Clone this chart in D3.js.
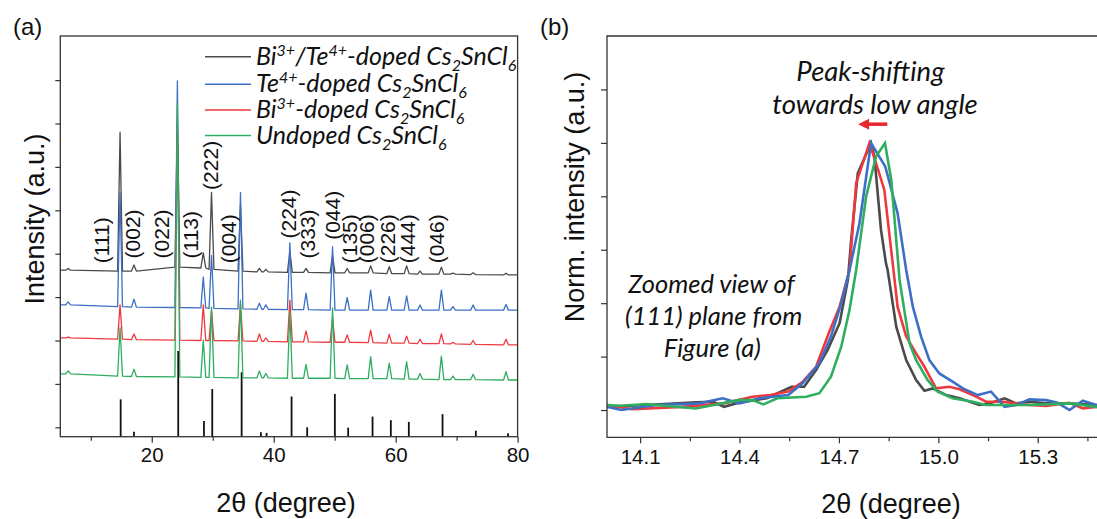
<!DOCTYPE html>
<html><head><meta charset="utf-8">
<script src="https://cdnjs.cloudflare.com/ajax/libs/d3/7.8.5/d3.min.js"></script>
<style>body{margin:0;background:#fff;} svg{display:block;}</style>
</head><body><svg id="c" width="1097" height="519"></svg>
<script>
// ---------- Panel (a) data ----------
const seriesColors = ["#4a4a4a", "#3d6fc6", "#ee3a3f", "#2fae5f"];
const peakPos   = [6.3, 14.8, 17.08, 24.2, 28.45, 29.8, 34.55, 37.65, 38.72, 42.65, 45.3, 49.65, 52.05, 55.9, 58.95, 61.8, 64.0, 67.5, 69.4, 72.7, 78.1];
const blackBase = [3.62,3.60,3.60,3.69,3.67,3.64,3.60,3.58,3.58,3.57,3.57,3.56,3.56,3.56,3.54,3.54,3.53,3.53,3.53,3.52,3.51];
const blackTop  = [3.66,6.80,3.74,7.08,4.02,5.41,5.12,3.66,3.64,4.05,3.66,3.96,3.66,3.72,3.70,3.72,3.60,3.69,3.55,3.56,3.55];
const blueBase  = [2.82,2.78,2.77,2.76,2.75,2.74,2.73,2.72,2.72,2.71,2.71,2.70,2.70,2.70,2.70,2.70,2.70,2.70,2.70,2.70,2.70];
const blueTop   = [2.89,5.41,2.95,7.98,3.46,3.96,5.41,2.86,2.82,4.25,3.09,4.16,2.99,3.16,3.01,3.03,2.82,3.16,2.78,2.82,2.83];
const redBase   = [2.06,2.03,2.02,2.01,2.00,2.00,1.99,1.98,1.98,1.97,1.97,1.96,1.96,1.95,1.94,1.94,1.93,1.93,1.92,1.91,1.90];
const redTop    = [2.08,2.82,2.15,6.86,2.82,2.70,2.85,2.15,2.06,2.93,2.22,2.52,2.13,2.24,2.14,2.10,2.03,2.15,1.96,2.00,2.03];
const greenBase = [1.23,1.18,1.17,1.16,1.15,1.15,1.14,1.14,1.14,1.13,1.13,1.13,1.12,1.12,1.12,1.11,1.11,1.10,1.10,1.10,1.09];
const greenTop  = [1.30,2.29,1.34,7.47,2.01,2.77,2.93,1.30,1.24,2.66,1.45,2.75,1.44,1.63,1.48,1.51,1.24,1.64,1.18,1.22,1.28];
const patternStart = [3.62, 2.82, 2.06, 1.23];
const patternEnd   = [3.51, 2.70, 1.90, 1.09];

const refPos = [14.9,17.08,24.34,28.56,29.92,34.74,37.9,38.83,42.93,45.49,50.03,52.21,56.21,59.21,62.16,67.69,73.15,78.44];
const refInt = [43.6,5.9,100,18.2,55.7,75.2,5.2,4.4,46.9,11.0,49.9,10.6,23.5,19.3,17.3,26.3,7.0,4.0];

const hklLabels = ["(111)","(002)","(022)","(113)","(222)","(004)","(224)","(333)","(044)","(135)","(006)","(226)","(444)","(046)"];
const hklPos    = [11.77,16.85,21.64,26.44,29.66,32.66,42.43,45.52,49.59,52.41,55.23,58.62,62.0,66.8];
const hklBottom = [3.78,3.89,3.89,3.89,5.47,3.78,4.35,3.89,4.32,3.78,3.78,3.78,3.78,3.78];

const xTicksA = [20,40,60,80];
const xMinorA = [10,30,50,70];
const yTicksA = [0,1,2,3,4,5,6,7,8];

// ---------- Panel (b) data ----------
const bBlack = [[14.0,0.012],[14.118,0.019],[14.268,0.029],[14.321,0.031],[14.353,0.012],[14.397,0.027],[14.482,0.044],[14.557,0.087],[14.595,0.087],[14.631,0.150],[14.666,0.225],[14.702,0.325],[14.727,0.487],[14.737,0.637],[14.757,0.887],[14.797,0.999],[14.807,0.949],[14.827,0.674],[14.842,0.549],[14.847,0.524],[14.873,0.312],[14.903,0.187],[14.933,0.112],[14.958,0.072],[14.983,0.081],[15.024,0.056],[15.064,0.044],[15.124,0.019],[15.154,0.025],[15.200,0.044],[15.235,0.025],[15.275,0.031],[15.325,0.025],[15.396,0.025],[15.476,0.019],[15.5,0.02]];
const bRed = [[14.0,0.019],[14.075,0.003],[14.225,0.012],[14.353,0.025],[14.439,0.050],[14.493,0.056],[14.547,0.069],[14.591,0.106],[14.631,0.162],[14.671,0.293],[14.702,0.387],[14.732,0.524],[14.752,0.849],[14.792,0.999],[14.812,0.924],[14.837,0.824],[14.868,0.487],[14.877,0.387],[14.903,0.275],[14.933,0.212],[14.958,0.162],[14.993,0.081],[15.033,0.087],[15.064,0.078],[15.114,0.050],[15.144,0.031],[15.194,0.031],[15.275,0.019],[15.325,0.015],[15.395,0.027],[15.436,0.006],[15.476,0.012],[15.5,0.012]];
const bBlue = [[14.0,0.012],[14.043,0.000],[14.150,0.019],[14.279,0.025],[14.349,0.044],[14.400,0.025],[14.460,0.044],[14.547,0.056],[14.590,0.100],[14.641,0.175],[14.676,0.275],[14.707,0.400],[14.732,0.524],[14.762,0.699],[14.797,0.999],[14.840,0.911],[14.877,0.737],[14.903,0.524],[14.923,0.387],[14.948,0.275],[14.973,0.187],[15.003,0.137],[15.043,0.106],[15.074,0.081],[15.119,0.056],[15.159,0.069],[15.200,0.012],[15.235,0.019],[15.275,0.040],[15.325,0.037],[15.360,0.027],[15.396,0.000],[15.436,0.035],[15.476,0.019],[15.5,0.02]];
const bGreen = [[14.0,0.019],[14.043,0.016],[14.119,0.022],[14.268,0.006],[14.397,0.037],[14.439,0.037],[14.472,0.021],[14.514,0.044],[14.601,0.050],[14.641,0.063],[14.676,0.125],[14.707,0.237],[14.732,0.375],[14.752,0.524],[14.782,0.799],[14.812,0.949],[14.839,0.999],[14.858,0.861],[14.883,0.487],[14.913,0.250],[14.933,0.187],[14.968,0.112],[14.998,0.069],[15.043,0.044],[15.104,0.031],[15.144,0.019],[15.275,0.019],[15.396,0.025],[15.476,0.012],[15.5,0.012]];
const xTicksB = [14.1,14.4,14.7,15.0,15.3];
const xMinorB = [14.25,14.55,14.85,15.15,15.45];
const yTicksB = [0,0.2,0.4,0.6,0.8,1.0,1.2];

// ---------- Drawing ----------
const svg = d3.select("#c");
const AX = "#333";
const sans = "'Liberation Sans', Arial, sans-serif";
const ital = "Lato, 'Open Sans', sans-serif";

// Panel (a)
const xa = d3.scaleLinear([5,80],[60.3,517.6]);
const ya = d3.scaleLinear([-0.2166,9.016],[436.7,36]);
const refY = d3.scaleLinear([0,100],[ya(-0.2166), ya(1.758)]);
const ga = svg.append("g");

ga.selectAll("line.ref").data(refPos).join("line")
  .attr("x1", d=>xa(d)).attr("x2", d=>xa(d))
  .attr("y1", ya(-0.2166)).attr("y2", (d,i)=>refY(refInt[i]))
  .attr("stroke","#111").attr("stroke-width",1.8);

function buildPattern(base, top, start, end){
  const pts = [[5,start]];
  peakPos.forEach((p,i)=>{ pts.push([p-0.4, base[i]],[p, top[i]],[p+0.4, base[i]]); });
  pts.push([80,end]);
  return pts;
}
const patterns = [
  buildPattern(blackBase, blackTop, patternStart[0], patternEnd[0]),
  buildPattern(blueBase, blueTop, patternStart[1], patternEnd[1]),
  buildPattern(redBase, redTop, patternStart[2], patternEnd[2]),
  buildPattern(greenBase, greenTop, patternStart[3], patternEnd[3])
];
const lineA = d3.line().x(d=>xa(d[0])).y(d=>ya(d[1]));
patterns.forEach((p,i)=>{
  ga.append("path").attr("d", lineA(p)).attr("fill","none")
    .attr("stroke", seriesColors[i]).attr("stroke-width",1.3).attr("stroke-linejoin","round");
});

hklLabels.forEach((t,i)=>{
  const x = xa(hklPos[i]), y = ya(hklBottom[i]);
  ga.append("text").attr("transform",`translate(${x},${y}) rotate(-90)`)
    .attr("dy","0.35em").attr("font-family",sans).attr("font-size",21).attr("fill","#111").text(t);
});

const axA = ga.append("g").attr("transform",`translate(0,${ya(-0.2166)})`)
  .call(d3.axisBottom(xa).tickValues(xTicksA).tickSize(6).tickPadding(5).tickFormat(d3.format("d")));
const axAm = ga.append("g").attr("transform",`translate(0,${ya(-0.2166)})`)
  .call(d3.axisBottom(xa).tickValues(xMinorA).tickSize(4).tickFormat(""));
const ayA = ga.append("g").attr("transform",`translate(${xa(5)},0)`)
  .call(d3.axisLeft(ya).tickValues(yTicksA).tickSize(5).tickFormat(""));
[axA,axAm,ayA].forEach(a=>{
  a.select(".domain").remove();
  a.selectAll("line").attr("stroke",AX).attr("stroke-width",1.2);
  a.selectAll("text").attr("font-family",sans).attr("font-size",20.5).attr("fill","#111");
});
ga.append("rect").attr("x",xa(5)).attr("y",ya(9.016)).attr("width",xa(80)-xa(5)).attr("height",ya(-0.2166)-ya(9.016))
  .attr("fill","none").attr("stroke",AX).attr("stroke-width",1.3);

// legend
const legendRows = [
  [["Bi",0],["3+",1],["/Te",0],["4+",1],["-doped Cs",0],["2",-1],["SnCl",0],["6",-1]],
  [["Te",0],["4+",1],["-doped Cs",0],["2",-1],["SnCl",0],["6",-1]],
  [["Bi",0],["3+",1],["-doped Cs",0],["2",-1],["SnCl",0],["6",-1]],
  [["Undoped Cs",0],["2",-1],["SnCl",0],["6",-1]]
];
const legY = [56.7, 84.3, 110, 135.5];
legendRows.forEach((row,i)=>{
  ga.append("line").attr("x1",205).attr("x2",251).attr("y1",legY[i]).attr("y2",legY[i])
    .attr("stroke",seriesColors[i]).attr("stroke-width",1.4);
  const t = ga.append("text").attr("x",256).attr("y",legY[i]+8).attr("font-family",ital)
    .attr("font-style","italic").attr("font-size",25).attr("fill","#111");
  let cur = 0;
  row.forEach(([s,k])=>{
    const target = k===1 ? -9 : (k===-1 ? 6 : 0);
    const ts = t.append("tspan").attr("dy", target-cur).text(s);
    if(k!==0) ts.attr("font-size",16);
    cur = target;
  });
});

svg.append("text").attr("x",13).attr("y",35).attr("font-family",sans).attr("font-size",24).attr("fill","#111").text("(a)");
svg.append("text").attr("transform","translate(35,219) rotate(-90)").attr("text-anchor","middle").attr("dy","0.35em")
  .attr("font-family",sans).attr("font-size",27).attr("fill","#111").text("Intensity (a.u.)");
svg.append("text").attr("x",286).attr("y",512).attr("text-anchor","middle")
  .attr("font-family",sans).attr("font-size",27).attr("fill","#111").text("2θ (degree)");

// Panel (b)
const xb = d3.scaleLinear([14.0,15.5],[607,1104]);
const yb = d3.scaleLinear([-0.102,1.4],[437.3,36]);
const gb = svg.append("g");
const lineB = d3.line().x(d=>xb(d[0])).y(d=>yb(d[1]));
[[bBlack,0],[bRed,2],[bBlue,1],[bGreen,3]].forEach(([d,i])=>{
  gb.append("path").attr("d",lineB(d)).attr("fill","none").attr("stroke",seriesColors[i])
    .attr("stroke-width",2.6).attr("stroke-linejoin","miter");
});
const axB = gb.append("g").attr("transform",`translate(0,${yb(-0.102)})`)
  .call(d3.axisBottom(xb).tickValues(xTicksB).tickSize(6).tickPadding(6).tickFormat(d3.format(".1f")));
const axBm = gb.append("g").attr("transform",`translate(0,${yb(-0.102)})`)
  .call(d3.axisBottom(xb).tickValues(xMinorB).tickSize(4).tickFormat(""));
const ayB = gb.append("g").attr("transform",`translate(${xb(14.0)},0)`)
  .call(d3.axisLeft(yb).tickValues(yTicksB).tickSize(6).tickFormat(""));
[axB,axBm,ayB].forEach(a=>{
  a.select(".domain").remove();
  a.selectAll("line").attr("stroke",AX).attr("stroke-width",1.2);
  a.selectAll("text").attr("font-family",sans).attr("font-size",20.5).attr("fill","#111");
});
gb.append("path").attr("d",`M${xb(15.5)},${yb(1.4)}H${xb(14.0)}V${yb(-0.102)}H${xb(15.5)}`)
  .attr("fill","none").attr("stroke",AX).attr("stroke-width",1.3);

const ann = [["Peak-shifting",14.795,1.231,27.5],["towards low angle",14.809,1.107,27.5],
             ["Zoomed view of",14.315,0.438,25.5],["(111) plane from",14.322,0.318,25.5],["Figure (a)",14.318,0.200,25.5]];
ann.forEach(([t,x,y,fs])=>{
  gb.append("text").attr("x",xb(x)).attr("y",yb(y)).attr("text-anchor","middle")
    .attr("font-family",ital).attr("font-style","italic").attr("font-size",fs).attr("fill","#111").text(t);
});
gb.append("line").attr("x1",xb(14.846)).attr("x2",xb(14.772)).attr("y1",yb(1.07)).attr("y2",yb(1.07))
  .attr("stroke","#e8262b").attr("stroke-width",3.5);
const ax0 = xb(14.758), ay0 = yb(1.07);
gb.append("path").attr("d",`M${ax0},${ay0}L${ax0+11},${ay0-5.5}L${ax0+11},${ay0+5.5}Z`).attr("fill","#e8262b");

svg.append("text").attr("x",540).attr("y",35).attr("font-family",sans).attr("font-size",24).attr("fill","#111").text("(b)");
svg.append("text").attr("transform","translate(575,197) rotate(-90)").attr("text-anchor","middle").attr("dy","0.35em")
  .attr("font-family",sans).attr("font-size",27).attr("fill","#111").text("Norm. intensity (a.u.)");
svg.append("text").attr("x",891).attr("y",513).attr("text-anchor","middle")
  .attr("font-family",sans).attr("font-size",27).attr("fill","#111").text("2θ (degree)");
</script></body></html>
